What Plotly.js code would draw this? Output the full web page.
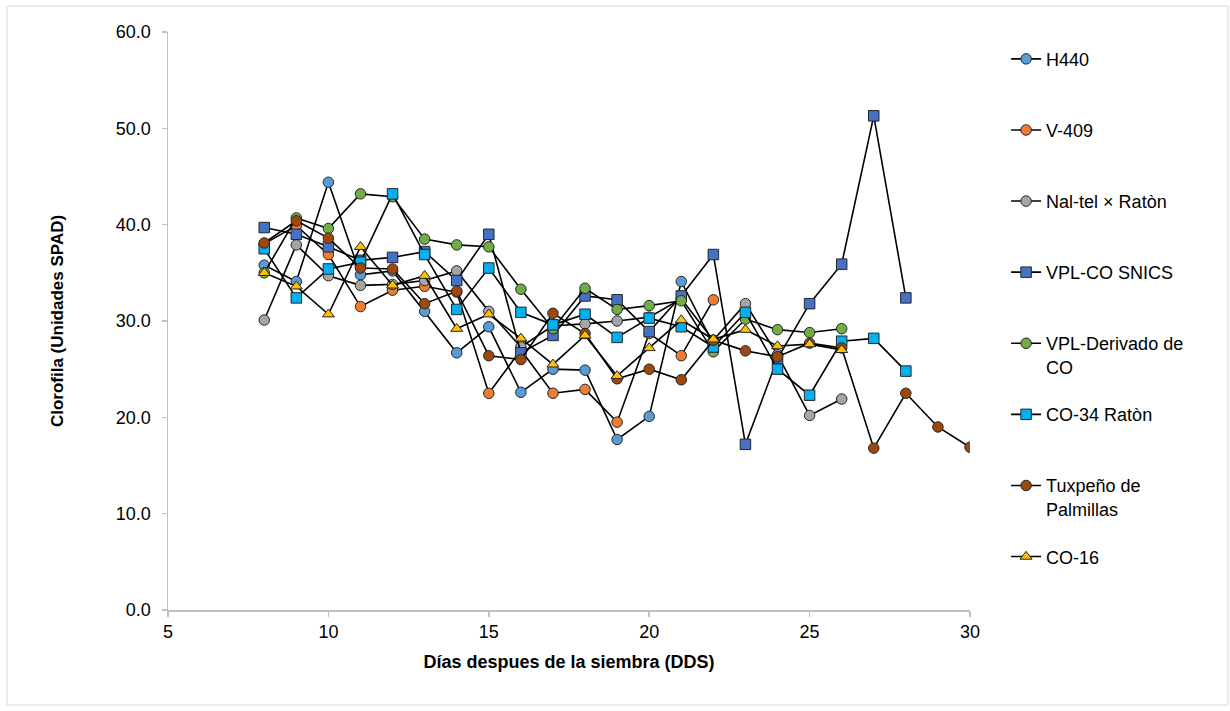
<!DOCTYPE html>
<html>
<head>
<meta charset="utf-8">
<script src="https://cdn.plot.ly/plotly-3.0.1.min.js"></script>
<style>html,body{margin:0;padding:0;background:#fff;}#chart{width:1230px;height:711px;}</style>
</head>
<body>
<div id="chart"></div>
<script>
// Días después de la siembra
const xH440   = [8,9,10,11,12,13,14,15,16,17,18,19,20,21,22];
const yH440   = [35.8,34.1,44.4,34.8,35.2,31.0,26.7,29.4,22.6,25.0,24.9,17.7,20.1,34.1,27.6];
const xV409   = [8,9,10,11,12,13,14,15,16,17,18,19,20,21,22];
const yV409   = [38.0,39.9,36.9,31.5,33.2,33.6,33.0,22.5,27.0,22.5,22.9,19.5,28.7,26.4,32.2];
const xNalTel = [8,9,10,11,12,13,14,15,16,17,18,19,20,21,22,23,24,25,26];
const yNalTel = [30.1,37.9,34.7,33.7,33.8,34.2,35.2,31.0,27.3,29.5,29.7,30.0,30.4,32.3,28.0,31.8,26.5,20.2,21.9];
const xSnics  = [8,9,10,11,12,13,14,15,16,17,18,19,20,21,22,23,24,25,26,27,28];
const ySnics  = [39.7,39.0,37.7,36.3,36.6,37.2,34.2,39.0,26.7,28.5,32.6,32.2,28.9,32.6,36.9,17.2,26.1,31.8,35.9,51.3,32.4];
const xDeriv  = [8,9,10,11,12,13,14,15,16,17,18,19,20,21,22,23,24,25,26];
const yDeriv  = [35.0,40.7,39.6,43.2,42.9,38.5,37.9,37.7,33.3,29.2,33.4,31.2,31.6,32.1,26.8,30.2,29.1,28.8,29.2];
const xCO34   = [8,9,10,11,12,13,14,15,16,17,18,19,20,21,22,23,24,25,26,27,28];
const yCO34   = [37.5,32.4,35.4,36.1,43.2,36.9,31.2,35.5,30.9,29.6,30.7,28.3,30.3,29.4,27.3,30.9,25.0,22.3,27.9,28.2,24.8];
const xTux    = [8,9,10,11,12,13,14,15,16,17,18,19,20,21,22,23,24,25,26,27,28,29,30];
const yTux    = [38.1,40.4,38.6,35.5,35.4,31.8,33.1,26.4,26.0,30.8,28.7,24.0,25.0,23.9,28.0,26.9,26.3,27.7,27.2,16.8,22.5,19.0,16.9];
const xCO16   = [8,9,10,11,12,13,14,15,16,17,18,19,20,21,22,23,24,25,26];
const yCO16   = [35.0,33.6,30.7,37.7,33.7,34.7,29.2,30.7,28.2,25.5,28.5,24.3,27.2,30.1,28.1,29.1,27.4,27.6,27.0];

const names = ["H440","V-409","Nal-tel × Ratòn","VPL-CO SNICS","VPL-Derivado de<br>CO","CO-34 Ratòn","Tuxpeño de<br>Palmillas","CO-16"];
const xs = [xH440,xV409,xNalTel,xSnics,xDeriv,xCO34,xTux,xCO16];
const ys = [yH440,yV409,yNalTel,ySnics,yDeriv,yCO34,yTux,yCO16];
const colors = ["#5B9BD5","#ED7D31","#A5A5A5","#4472C4","#70AD47","#00B0F0","#9E480E","#FFC000"];
const symbols = ["circle","circle","circle","square","circle","square","circle","triangle-up"];

const FONT = "Liberation Sans, Arial, sans-serif";

const traces = names.map((n,i)=>({
  type:"scatter", mode:"lines+markers",
  x: xs[i], y: ys[i],
  name: n.indexOf("<br>")>=0 ? n : n + "<br>\u00a0",
  legendgroup: "g"+i,
  line:{color:"#000000", width:1.6},
  marker:{color:colors[i], symbol:symbols[i], size:10.5, line:{color:"#262626", width:1}}
}));

const layout = {
  width:1230, height:711,
  paper_bgcolor:"#ffffff", plot_bgcolor:"#ffffff",
  margin:{l:168, r:260, t:32, b:101},
  font:{family:FONT, size:18, color:"#000000"},
  showlegend:true,
  legend:{x:1.045, xanchor:"left", y:0.985, yanchor:"top", valign:"top",
          tracegroupgap:21.3, font:{family:FONT, size:18, color:"#000"}, bgcolor:"rgba(0,0,0,0)"},
  xaxis:{range:[5,30], dtick:5, tick0:5, showgrid:false, zeroline:false,
         showline:true, linecolor:"#bfbfbf", linewidth:1.5,
         ticks:"outside", ticklen:5, tickcolor:"#bfbfbf", tickwidth:1.5,
         tickfont:{family:FONT,size:18,color:"#000"},
         title:{text:"<b>Días despues de la siembra (DDS)</b>", font:{family:FONT,size:18,color:"#000"}, standoff:14}},
  yaxis:{range:[0,60], dtick:10, tickformat:".1f", showgrid:false, zeroline:false,
         showline:true, linecolor:"#bfbfbf", linewidth:1.5,
         ticks:"outside", ticklen:5, tickcolor:"#bfbfbf", tickwidth:1.5, ticklabelstandoff:7,
         tickfont:{family:FONT,size:18,color:"#000"},
         title:{text:"<b>Clorofila (Unidades SPAD)</b>", font:{family:FONT,size:17,color:"#000"}, standoff:48}},
  shapes:[{type:"rect", xref:"paper", yref:"paper",
           x0:(7-168)/802, x1:(1228-168)/802, y0:-(705-610)/578, y1:(610-6)/578,
           line:{color:"#d9d9d9", width:1}, fillcolor:"rgba(0,0,0,0)", layer:"below"}]
};

Plotly.newPlot("chart", traces, layout, {displayModeBar:false, staticPlot:true});
</script>
</body>
</html>
